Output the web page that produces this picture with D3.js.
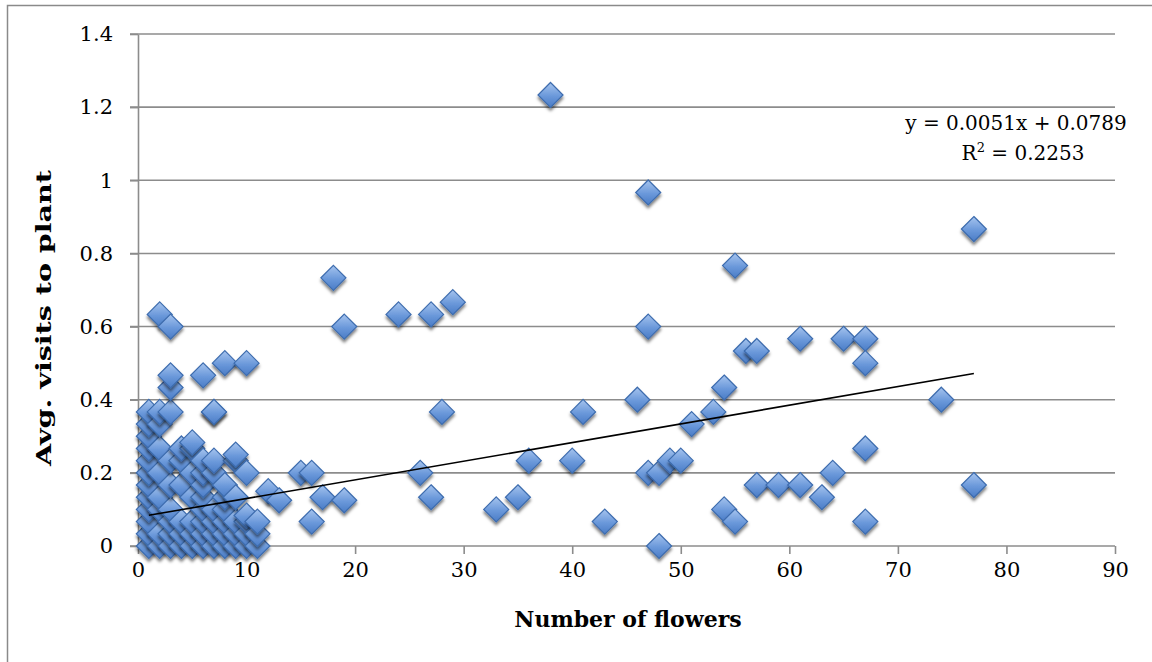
<!DOCTYPE html>
<html>
<head>
<meta charset="utf-8">
<script src="https://cdn.jsdelivr.net/npm/d3@7"></script>
<style>
  html, body { margin: 0; padding: 0; background: #fff; }
  svg { display: block; font-family: "DejaVu Serif", "Liberation Serif", serif; }
</style>
</head>
<body>
<div id="chart"></div>
<script>
'use strict';

// Number of flowers per plant (x) and average visits (y)
const flowers = [
  1, 1, 1, 1, 1, 1, 1, 1, 1, 1, 1, 1,
  2, 2, 2, 2, 2, 2, 2, 2, 2,
  3, 3, 3, 3, 3, 3, 3, 3, 3, 3,
  4, 4, 4, 4, 4, 4,
  5, 5, 5, 5, 5, 5, 5,
  6, 6, 6, 6, 6, 6, 6, 6, 6,
  7, 7, 7, 7, 7, 7, 7, 7,
  8, 8, 8, 8, 8, 8, 8,
  9, 9, 9, 9, 9, 9,
  10, 10, 10, 10, 10, 10,
  11, 11, 11, 12, 13,
  15, 16, 16, 17, 18, 19, 19,
  24, 26, 27, 27, 28, 29,
  33, 35, 36, 38, 40, 41,
  43, 46, 47, 47, 47, 48, 48, 49, 50,
  51, 53, 54, 54, 55, 55, 56, 57, 57,
  59, 61, 61, 63, 64, 65, 67, 67, 67, 67,
  74, 77, 77
];
const visits = [
  0, 0.0333, 0.0667, 0.1, 0.1333, 0.1667, 0.2, 0.2333, 0.2667, 0.3, 0.3333, 0.3667,
  0, 0.0333, 0.1, 0.1333, 0.2, 0.2667, 0.3333, 0.3667, 0.6333,
  0, 0.0333, 0.0667, 0.1, 0.1667, 0.2333, 0.3667, 0.4333, 0.4667, 0.6,
  0, 0.0333, 0.0667, 0.1667, 0.2333, 0.2667,
  0, 0.0333, 0.0667, 0.1333, 0.2, 0.2667, 0.2833,
  0, 0.0333, 0.0667, 0.1, 0.1333, 0.1667, 0.2, 0.2333, 0.4667,
  0, 0.0333, 0.0667, 0.1, 0.2, 0.2333, 0.3667, 0.3667,
  0, 0.0333, 0.0667, 0.1, 0.1333, 0.1667, 0.5,
  0, 0.0333, 0.0667, 0.1333, 0.2333, 0.25,
  0, 0.0333, 0.0667, 0.0833, 0.2, 0.5,
  0, 0.0333, 0.0667, 0.15, 0.125,
  0.2, 0.2, 0.0667, 0.1333, 0.7333, 0.6, 0.125,
  0.6333, 0.2, 0.6333, 0.1333, 0.3667, 0.6667,
  0.1, 0.1333, 0.2333, 1.2333, 0.2333, 0.3667,
  0.0667, 0.4, 0.9667, 0.6, 0.2, 0.2, 0, 0.2333, 0.2333,
  0.3333, 0.3667, 0.4333, 0.1, 0.7667, 0.0667, 0.5333, 0.5333, 0.1667,
  0.1667, 0.5667, 0.1667, 0.1333, 0.2, 0.5667, 0.5667, 0.5, 0.2667, 0.0667,
  0.4, 0.8667, 0.1667
];

const xTicks = [0, 10, 20, 30, 40, 50, 60, 70, 80, 90];
const yTicks = [0, 0.2, 0.4, 0.6, 0.8, 1, 1.2, 1.4];

// Linear trendline shown on the chart
const trendSlope = 0.0051;
const trendIntercept = 0.0789;
const trendRange = [1, 77];
const equationLines = ['y = 0.0051x + 0.0789', 'R² = 0.2253'];

const W = 1152, H = 662;
const x = d3.scaleLinear().domain([0, 90]).range([138, 1115]);
const y = d3.scaleLinear().domain([0, 1.4]).range([546, 34]);

const svg = d3.select('#chart').append('svg')
  .attr('width', W).attr('height', H).attr('viewBox', `0 0 ${W} ${H}`);

const defs = svg.append('defs');
const grad = defs.append('linearGradient').attr('id', 'mk').attr('x1', 0).attr('y1', 0).attr('x2', 0).attr('y2', 1);
grad.append('stop').attr('offset', '0%').attr('stop-color', '#a6c4ee');
grad.append('stop').attr('offset', '55%').attr('stop-color', '#6a98da');
grad.append('stop').attr('offset', '100%').attr('stop-color', '#4a7cc6');
const shadow = defs.append('filter').attr('id', 'sh')
  .attr('x', '-50%').attr('y', '-50%').attr('width', '200%').attr('height', '200%');
shadow.append('feDropShadow').attr('dx', 0).attr('dy', 3).attr('stdDeviation', 1.8)
  .attr('flood-color', '#000').attr('flood-opacity', 0.5);

// outer chart frame
svg.append('rect').attr('x', 7.5).attr('y', 5.5).attr('width', 1300).attr('height', 800)
  .attr('fill', '#fff').attr('stroke', '#8a8a8a').attr('stroke-width', 1.5);

// horizontal gridlines
svg.append('g').selectAll('line').data(yTicks.slice(1)).join('line')
  .attr('x1', 130).attr('x2', x(90))
  .attr('y1', d => y(d)).attr('y2', d => y(d))
  .attr('stroke', '#8c8c8c').attr('stroke-width', 1.6);

// axes
const xAxis = svg.append('g').attr('transform', `translate(0,${y(0)})`)
  .call(d3.axisBottom(x).tickValues(xTicks).tickSize(8).tickSizeOuter(0).tickPadding(8).tickFormat(d3.format('d')));
const yAxis = svg.append('g').attr('transform', `translate(${x(0)},0)`)
  .call(d3.axisLeft(y).tickValues(yTicks).tickSize(8).tickSizeOuter(0).tickPadding(17).tickFormat(d => d === 0 ? '0' : String(d)));
[xAxis, yAxis].forEach(g => {
  g.select('.domain').attr('stroke', '#8c8c8c').attr('stroke-width', 1.6);
  g.selectAll('.tick line').attr('stroke', '#8c8c8c').attr('stroke-width', 1.6);
  g.selectAll('.tick text').attr('fill', '#000').attr('font-size', 21)
    .attr('font-family', '"DejaVu Serif", serif');
});
xAxis.select('.domain').attr('d', `M130,0H${x(90)}`);

// markers
const pts = flowers.map((f, i) => ({ f, v: visits[i] }));
const R = 12.5;
svg.append('g').selectAll('path').data(pts).join('path')
  .attr('d', `M0,${-R}L${R},0L0,${R}L${-R},0Z`)
  .attr('transform', d => `translate(${x(d.f)},${y(d.v)})`)
  .attr('fill', 'url(#mk)').attr('stroke', '#3d6cae').attr('stroke-width', 1.2)
  .attr('filter', 'url(#sh)');

// trendline
svg.append('line')
  .attr('x1', x(trendRange[0])).attr('y1', y(trendSlope * trendRange[0] + trendIntercept))
  .attr('x2', x(trendRange[1])).attr('y2', y(trendSlope * trendRange[1] + trendIntercept))
  .attr('stroke', '#000').attr('stroke-width', 1.6);

// equation label
svg.append('text').attr('x', 1016).attr('y', 130).attr('text-anchor', 'middle')
  .attr('font-size', 20).text(equationLines[0]);
svg.append('text').attr('x', 1023).attr('y', 160).attr('text-anchor', 'middle')
  .attr('font-size', 20)
  .html('R<tspan dy="-8" font-size="13">2</tspan><tspan dy="8"> = 0.2253</tspan>');

// axis titles
svg.append('text').attr('x', 628).attr('y', 627).attr('text-anchor', 'middle')
  .attr('font-size', 22).attr('font-weight', 'bold').text('Number of flowers');
svg.append('text').attr('transform', 'translate(51,318) rotate(-90)').attr('text-anchor', 'middle')
  .attr('font-size', 21).attr('font-weight', 'bold')
  .attr('textLength', 296).attr('lengthAdjust', 'spacingAndGlyphs')
  .text('Avg. visits to plant');
</script>
</body>
</html>
